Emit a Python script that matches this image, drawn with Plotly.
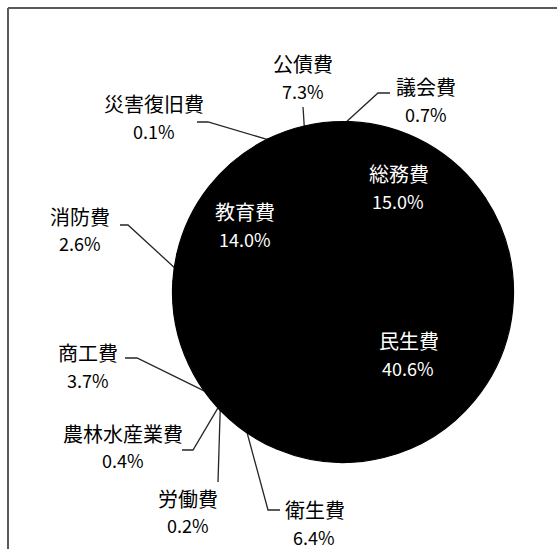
import math
import plotly.graph_objects as go

# Expenditure shares (%), clockwise from 12 o'clock
categories = ["議会費", "総務費", "民生費", "衛生費", "労働費", "農林水産業費",
              "商工費", "土木費", "消防費", "教育費", "災害復旧費", "公債費"]
shares = [0.7, 15.0, 40.6, 6.4, 0.2, 0.4, 3.7, 9.0, 2.6, 14.0, 0.1, 7.3]
pct_labels = ["0.7%", "15.0%", "40.6%", "6.4%", "0.2%", "0.4%",
              "3.7%", "9.0%", "2.6%", "14.0%", "0.1%", "7.3%"]

W, H = 557, 549
CX, CY, R = 343, 292, 170.5
FONT = "Noto Sans CJK JP"

# Label layout: name-line centre, percent-line centre, leader route, inside flag
layout_spec = {
    "議会費":     dict(name=(426, 86), pct=(426, 114), route=[(378, 93), (390, 93)]),
    "総務費":     dict(name=(399, 173), pct=(398, 201), inside=True),
    "民生費":     dict(name=(409, 340), pct=(408, 368), inside=True),
    "衛生費":     dict(name=(315, 509), pct=(314, 537), route=[(268, 510), (280, 510)]),
    "労働費":     dict(name=(188, 498), pct=(188, 525), route=[(218, 482)]),
    "農林水産業費": dict(name=(123, 433), pct=(123, 460), route=[(193, 450), (182, 450)]),
    "商工費":     dict(name=(88, 352), pct=(88, 380), route=[(137, 358), (125, 358)]),
    "消防費":     dict(name=(80, 216), pct=(80, 243), route=[(128, 225), (120, 225)]),
    "教育費":     dict(name=(245, 211), pct=(245, 239), inside=True),
    "災害復旧費":  dict(name=(154, 103), pct=(154, 131), route=[(208, 122), (197, 122)]),
    "公債費":     dict(name=(303, 63), pct=(303, 91), route=[(303, 107)]),
}

fig = go.Figure()

fig.add_trace(go.Pie(
    labels=categories,
    values=shares,
    sort=False,
    direction="clockwise",
    rotation=0,
    textinfo="none",
    hoverinfo="skip",
    marker=dict(colors=["#000000"] * len(shares),
                line=dict(color="#000000", width=1.2)),
    showlegend=False,
    domain=dict(x=[(CX - R) / W, (CX + R) / W],
                y=[1 - (CY + R) / H, 1 - (CY - R) / H]),
))

# Leader lines start at each slice's mid-angle on the rim
total = sum(shares)
cum = 0.0
annotations = []
for cat, val, pct in zip(categories, shares, pct_labels):
    mid = (cum + val / 2) / total * 2 * math.pi
    cum += val
    spec = layout_spec.get(cat)
    if spec is None:
        continue
    inside = spec.get("inside", False)
    color = "#ffffff" if inside else "#000000"
    if not inside:
        ax = CX + R * math.sin(mid)
        ay = CY - R * math.cos(mid)
        pts = [(ax, ay)] + spec["route"]
        fig.add_trace(go.Scatter(
            x=[p[0] for p in pts], y=[p[1] for p in pts],
            mode="lines", line=dict(color="#262626", width=1.3),
            hoverinfo="skip", showlegend=False,
        ))
    for text, (tx, ty), size in ((cat, spec["name"], 20), (pct, spec["pct"], 18)):
        annotations.append(dict(
            x=tx, y=ty, xref="x", yref="y", text=text, showarrow=False,
            xanchor="center", yanchor="middle",
            font=dict(family=FONT, size=size, color=color),
        ))

# Frame (top and left edges)
shapes = [
    dict(type="line", xref="x", yref="y", x0=8, y0=8, x1=W + 5, y1=8,
         line=dict(color="#595959", width=2)),
    dict(type="line", xref="x", yref="y", x0=8, y0=8, x1=8, y1=H + 5,
         line=dict(color="#595959", width=2)),
]

fig.update_layout(
    width=W, height=H,
    margin=dict(l=0, r=0, t=0, b=0),
    paper_bgcolor="#ffffff", plot_bgcolor="rgba(0,0,0,0)",
    xaxis=dict(range=[0, W], visible=False, fixedrange=True),
    yaxis=dict(range=[H, 0], visible=False, fixedrange=True),
    annotations=annotations,
    shapes=shapes,
)

fig.write_html("out.html")
